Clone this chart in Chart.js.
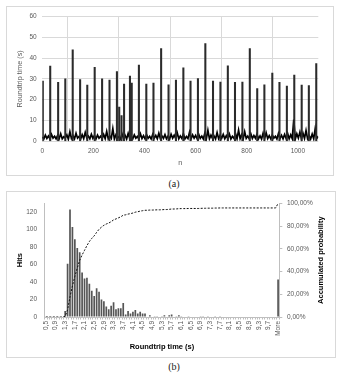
<!DOCTYPE html>
<html lang="en">

<head>
    <meta charset="UTF-8">
    <title>Roundtrip time</title>
    <script src="https://cdn.jsdelivr.net/npm/chart.js"></script>
    <style>
        body { margin: 0; width: 348px; height: 373px; background: #fff; position: relative; overflow: hidden; }
        .box { position: absolute; border: 1px solid #d9d9d9; background: #fff; }
        #boxA { left: 6px; top: 6px; width: 326px; height: 168px; }
        #boxB { left: 6px; top: 191px; width: 328px; height: 165px; }
        .caption { position: absolute; left: 0; width: 348px; height: 12px; line-height: 12px; text-align: center;
                   font: 10px "Liberation Serif", serif; color: #222; }
    </style>
</head>

<body onload="plotarRoundtrip(); plotarHistograma();">
    <div id="boxA" class="box"><canvas id="roundtripChart" width="326" height="168"></canvas></div>
    <div class="caption" style="top:178px">(a)</div>
    <div id="boxB" class="box"><canvas id="histogramChart" width="328" height="165"></canvas></div>
    <div class="caption" style="top:361px">(b)</div>
</body>

</html>
<script>
    // (a) roundtrip time per request n - baseline samples
    const baseN = [
        0, 6, 12, 18, 24, 30, 36, 42, 48, 54,
        60, 66, 72, 78, 84, 90, 96, 102, 108, 114,
        120, 126, 132, 138, 144, 150, 156, 162, 168, 174,
        180, 186, 192, 198, 204, 210, 216, 222, 228, 234,
        240, 246, 252, 258, 264, 270, 276, 282, 288, 294,
        300, 306, 312, 318, 324, 330, 336, 342, 348, 354,
        360, 366, 372, 378, 384, 390, 396, 402, 408, 414,
        420, 426, 432, 438, 444, 450, 456, 462, 468, 474,
        480, 486, 492, 498, 504, 510, 516, 522, 528, 534,
        540, 546, 552, 558, 564, 570, 576, 582, 588, 594,
        600, 606, 612, 618, 624, 630, 636, 642, 648, 654,
        660, 666, 672, 678, 684, 690, 696, 702, 708, 714,
        720, 726, 732, 738, 744, 750, 756, 762, 768, 774,
        780, 786, 792, 798, 804, 810, 816, 822, 828, 834,
        840, 846, 852, 858, 864, 870, 876, 882, 888, 894,
        900, 906, 912, 918, 924, 930, 936, 942, 948, 954,
        960, 966, 972, 978, 984, 990, 996, 1002, 1008, 1014,
        1020, 1026, 1032, 1038, 1044, 1050, 1056, 1062, 1068, 1074,
        1080
    ];
    const baseTime = [
        2.1, 1.2, 3.0, 1.4, 2.6, 1.1, 3.3, 1.5, 2.4, 1.2,
        2.9, 1.3, 3.6, 1.2, 2.2, 1.6, 3.1, 1.1, 4.6, 1.4,
        2.7, 1.2, 3.9, 1.5, 2.3, 1.1, 3.2, 1.3, 4.3, 1.6,
        2.5, 1.2, 3.4, 1.4, 2.8, 1.1, 3.0, 1.5, 2.4, 1.2,
        3.3, 1.3, 4.8, 1.2, 2.6, 1.4, 6.1, 1.1, 3.1, 1.5,
        2.2, 1.2, 3.5, 1.3, 2.9, 1.1, 3.8, 1.4, 2.5, 1.2,
        3.1, 1.5, 2.3, 1.1, 3.6, 1.3, 2.7, 1.2, 3.2, 1.4,
        2.4, 1.1, 3.3, 1.5, 2.8, 1.2, 3.9, 1.3, 2.6, 1.4,
        3.2, 1.2, 2.5, 1.1, 3.4, 1.5, 2.9, 1.3, 4.1, 1.2,
        2.6, 1.4, 3.7, 1.1, 2.3, 1.3, 4.4, 1.2, 3.1, 1.5,
        2.8, 1.2, 3.4, 1.4, 2.5, 1.1, 3.9, 1.3, 5.3, 1.2,
        3.0, 1.4, 2.6, 1.1, 4.2, 1.3, 2.9, 1.5, 3.3, 1.2,
        2.7, 1.3, 3.5, 1.1, 2.4, 1.4, 3.8, 1.2, 5.4, 1.3,
        3.2, 1.1, 4.6, 1.4, 2.5, 1.2, 3.6, 1.3, 2.8, 1.5,
        3.4, 1.2, 2.6, 1.1, 3.9, 1.4, 4.1, 1.3, 2.7, 1.2,
        3.1, 1.5, 2.4, 1.1, 3.7, 1.3, 2.9, 1.2, 3.3, 1.4,
        3.8, 1.2, 3.1, 1.3, 10.5, 1.1, 3.6, 1.5, 4.4, 1.2,
        3.9, 1.4, 5.2, 1.3, 2.8, 1.1, 3.5, 1.2, 6.2, 1.4,
        2.3
    ];
    // (a) the long roundtrips (peaks)
    const spikeN = [2, 31, 62, 90, 119, 148, 176, 205, 234, 263, 292, 301, 310, 320, 343, 350, 378, 407, 435, 465,
        494, 523, 552, 580, 609, 638, 668, 697, 726, 754, 783, 812, 841, 869, 900, 928, 957, 986, 1015, 1043, 1072];
    const spikeTime = [29, 36.2, 28.3, 30, 44, 29.7, 27, 35.6, 30, 29.4, 33.5, 16.5, 12.4, 27.5, 31.3, 28, 36.7, 27.5, 28, 44.6,
        27.2, 29.4, 35.3, 29, 30.2, 47, 29, 28.5, 36.3, 28.3, 28.5, 44.6, 25.3, 27.2, 32.8, 28.3, 26.6, 31.8, 27, 26.8, 37.4];
    const nTicks = [0, 200, 400, 600, 800, 1000];
    const timeTicks = [0, 10, 20, 30, 40, 50, 60];

    // (b) histogram bins
    const binLabels = ['0,5', '0,6', '0,7', '0,8', '0,9', '1,0', '1,1', '1,2', '1,3', '1,4', '1,5', '1,6', '1,7', '1,8', '1,9',
        '2,0', '2,1', '2,2', '2,3', '2,4', '2,5', '2,6', '2,7', '2,8', '2,9', '3,0', '3,1', '3,2', '3,3', '3,4', '3,5', '3,6', '3,7', '3,8', '3,9',
        '4,0', '4,1', '4,2', '4,3', '4,4', '4,5', '4,6', '4,7', '4,8', '4,9', '5,0', '5,1', '5,2', '5,3', '5,4', '5,5', '5,6', '5,7', '5,8', '5,9',
        '6,0', '6,1', '6,2', '6,3', '6,4', '6,5', '6,6', '6,7', '6,8', '6,9', '7,0', '7,1', '7,2', '7,3', '7,4', '7,5', '7,6', '7,7', '7,8', '7,9',
        '8,0', '8,1', '8,2', '8,3', '8,4', '8,5', '8,6', '8,7', '8,8', '8,9', '9,0', '9,1', '9,2', '9,3', '9,4', '9,5', '9,6', '9,7', '9,8', '9,9',
        '10,0', 'More'];
    const hits = [0, 0, 0, 0, 0, 0, 0, 0, 7, 61, 123, 103, 89, 79, 74,
        51, 44, 45, 38, 30, 24, 33, 29, 20, 18,
        12, 9, 13, 17, 9, 10, 10, 16, 3, 7,
        4, 6, 8, 4, 6, 4, 4, 0, 2, 0,
        1, 1, 0, 1, 2, 0, 2, 3, 0, 1,
        2, 1, 0, 0, 1, 0, 0, 0, 0, 1,
        1, 0, 1, 0, 0, 1, 0, 1, 0, 0,
        0, 0, 0, 0, 0, 0, 0, 0, 0, 0,
        0, 0, 0, 0, 0, 0, 0, 0, 0, 0,
        0, 43];
    const accumulated = [0, 0, 0, 0, 0, 0, 0, 0, 0.65, 6.33, 17.77, 27.35, 35.63, 42.98, 49.86,
        54.60, 58.70, 62.88, 66.42, 69.21, 71.44, 74.51, 77.21, 79.07, 80.74,
        81.86, 82.70, 83.91, 85.49, 86.33, 87.26, 88.19, 89.67, 89.95, 90.60,
        90.98, 91.53, 92.28, 92.65, 93.21, 93.58, 93.95, 93.95, 94.14, 94.14,
        94.23, 94.33, 94.33, 94.42, 94.60, 94.60, 94.79, 95.07, 95.07, 95.16,
        95.35, 95.44, 95.44, 95.44, 95.53, 95.53, 95.53, 95.53, 95.53, 95.63,
        95.72, 95.72, 95.81, 95.81, 95.81, 95.91, 95.91, 96.00, 96.00, 96.00,
        96.00, 96.00, 96.00, 96.00, 96.00, 96.00, 96.00, 96.00, 96.00, 96.00,
        96.00, 96.00, 96.00, 96.00, 96.00, 96.00, 96.00, 96.00, 96.00, 96.00,
        96.00, 100];
    const hitsTicks = [0, 20, 40, 60, 80, 100, 120];
    const probTicks = [0, 20, 40, 60, 80, 100];

    Chart.defaults.font.family = '"Liberation Sans", Arial, sans-serif';
    Chart.defaults.color = '#595959';
    Chart.defaults.animation = false;

    // Excel-like fixed ticks (Chart.js would drop 1000 near max 1080)
    function fixarTicks(valores) {
        return function (scale) {
            scale.ticks = valores.map(v => ({ value: v }));
        };
    }

    function plotarRoundtrip() {
        const dados = {
            datasets: [{
                type: 'line',
                data: baseN.map((n, i) => ({ x: n, y: baseTime[i] })),
                borderColor: '#000',
                borderWidth: 1.7,
                pointRadius: 0,
                tension: 0,
                order: 1
            }, {
                type: 'bar',
                data: spikeN.map((n, i) => ({ x: n, y: spikeTime[i] })),
                backgroundColor: '#2b2b2b',
                barThickness: 1.4,
                order: 0
            }]
        };

        new Chart(document.querySelector('#roundtripChart'), {
            type: 'line',
            data: dados,
            options: {
                responsive: false,
                layout: { autoPadding: false, padding: { top: 7.1, right: 14.7, left: 0, bottom: 0 } },
                plugins: { legend: { display: false }, tooltip: { enabled: false } },
                scales: {
                    x: {
                        type: 'linear', min: 0, max: 1080, offset: false,
                        ticks: { padding: 6, maxRotation: 0, autoSkip: false, font: { size: 6.5 }, callback: v => String(v) },
                        afterBuildTicks: fixarTicks(nTicks),
                        grid: { color: '#d9d9d9', drawTicks: false },
                        border: { display: false },
                        title: { display: true, text: 'n', font: { size: 7.2 }, padding: { top: 0, bottom: 7.7 } },
                        afterFit(s) { s.height = 33.7; }
                    },
                    y: {
                        min: 0, max: 60,
                        ticks: { padding: 5.6, font: { size: 6.5 } },
                        afterBuildTicks: fixarTicks(timeTicks),
                        grid: { color: '#d9d9d9', drawTicks: false },
                        border: { display: false },
                        title: { display: true, text: 'Roundtrip time (s)', font: { size: 7.2 }, padding: { top: 8.7, bottom: 0 } },
                        afterFit(s) { s.width = 35.3; }
                    }
                }
            }
        });
    }

    // the right axis title reads bottom-to-top, so it is drawn by hand
    const tituloDireita = {
        id: 'tituloDireita',
        afterDraw(chart) {
            const ctx = chart.ctx;
            const area = chart.chartArea;
            ctx.save();
            ctx.translate(314, (area.top + area.bottom) / 2);
            ctx.rotate(-Math.PI / 2);
            ctx.font = 'bold 7.5px "Liberation Sans", Arial, sans-serif';
            ctx.fillStyle = '#000';
            ctx.textAlign = 'center';
            ctx.textBaseline = 'middle';
            ctx.fillText('Accumulated probability', 0, 0);
            ctx.restore();
        }
    };

    function plotarHistograma() {
        const dados = {
            labels: binLabels,
            datasets: [{
                type: 'line',
                data: accumulated,
                yAxisID: 'y2',
                borderColor: '#111',
                borderWidth: 1,
                borderDash: [2, 1.5],
                pointRadius: 0,
                tension: 0,
                order: 0
            }, {
                type: 'bar',
                data: hits,
                yAxisID: 'y',
                backgroundColor: '#555',
                barPercentage: 0.7,
                categoryPercentage: 1,
                order: 1
            }]
        };

        new Chart(document.querySelector('#histogramChart'), {
            type: 'bar',
            data: dados,
            options: {
                responsive: false,
                layout: { autoPadding: false, padding: { top: 3.7, right: 0, left: 0, bottom: 0 } },
                plugins: { legend: { display: false }, tooltip: { enabled: false } },
                scales: {
                    x: {
                        ticks: {
                            autoSkip: false, minRotation: 90, maxRotation: 90, padding: 1.5, font: { size: 6.5 },
                            callback: (v, i) => (i % 4 === 0 ? binLabels[i] : '')
                        },
                        grid: { drawOnChartArea: false, tickLength: 2.5, color: '#bfbfbf' },
                        border: { color: '#bfbfbf' },
                        title: { display: true, text: 'Roundtrip time (s)', color: '#000', font: { size: 7.5, weight: 'bold' }, padding: { top: 0, bottom: 5.8 } },
                        afterFit(s) { s.height = 40; }
                    },
                    y: {
                        position: 'left', min: 0, max: 130,
                        ticks: { padding: 7.5, font: { size: 6.5 } },
                        afterBuildTicks: fixarTicks(hitsTicks),
                        grid: { drawOnChartArea: false, drawTicks: false },
                        border: { color: '#bfbfbf' },
                        title: { display: true, text: 'Hits', color: '#000', font: { size: 7.5, weight: 'bold' }, padding: { top: 8.5, bottom: 0 } },
                        afterFit(s) { s.width = 37.6; }
                    },
                    y2: {
                        position: 'right', min: 0, max: 100,
                        ticks: { padding: 4.7, font: { size: 6.5 }, callback: v => v.toFixed(2).replace('.', ',') + '%' },
                        afterBuildTicks: fixarTicks(probTicks),
                        grid: { drawOnChartArea: false, tickLength: 3, color: '#bfbfbf' },
                        border: { color: '#bfbfbf' },
                        afterFit(s) { s.width = 55.7; }
                    }
                }
            },
            plugins: [tituloDireita]
        });
    }
</script>
